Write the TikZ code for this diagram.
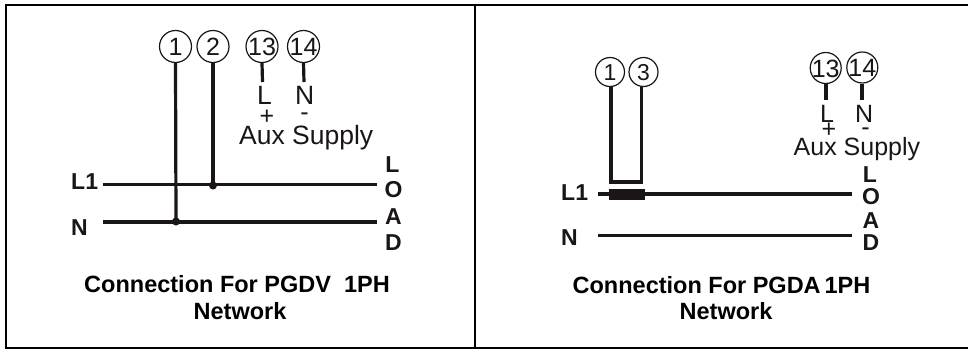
\documentclass[tikz,border=0pt]{standalone}
\usepackage{fontspec}
\setmainfont{Liberation Sans}
\definecolor{ink}{HTML}{1A1616}
\newcommand{\tnum}[1]{\makebox[0pt][c]{\smash{\raisebox{-.36em}{#1}}}}
\tikzset{
  frame/.style={draw=black,line width=2pt},
  wire/.style={draw=ink,line width=3.2pt},
  term/.style={circle,draw=ink,line width=1.2pt,fill=white,inner sep=0pt,text=ink,font=\fontsize{25}{25}\selectfont},
  termr/.style={term,font=\fontsize{23}{23}\selectfont},
  reg/.style={inner sep=0pt,anchor=base west,text=ink,font=\fontsize{26.5}{26.5}\selectfont},
  regr/.style={reg,font=\fontsize{25}{25}\selectfont},
  sign/.style={inner sep=0pt,anchor=center,text=ink,font=\fontsize{25}{25}\selectfont},
  boldt/.style={inner sep=0pt,anchor=base west,text=ink,font=\bfseries\fontsize{23}{23}\selectfont},
  loadt/.style={inner sep=0pt,anchor=base,text=ink,font=\bfseries\fontsize{23}{23}\selectfont},
  titlet/.style={inner sep=0pt,anchor=base,text=black,font=\bfseries\fontsize{23.5}{23.5}\selectfont},
  dotj/.style={circle,fill=ink,inner sep=0pt,minimum size=8pt},
}
\begin{document}
\begin{tikzpicture}[x=1pt,y=-1pt]
\useasboundingbox (0,0) rectangle (968,351);
\fill[white] (0,0) rectangle (968,351);
% frame
\draw[frame] (968,5) -- (5.5,5) -- (5.5,347.5) -- (968,347.5);
\draw[frame] (474.5,5) -- (474.5,347.5);
% left panel
\node[term,minimum size=32pt] (a1) at (175.5,46.5) {\tnum{1}};
\node[term,minimum size=32pt] (a2) at (213,46.5) {\tnum{2}};
\node[term,minimum size=32pt] (a13) at (262,46.5) {\tnum{13}};
\node[term,minimum size=32pt] (a14) at (303.5,46.5) {\tnum{14}};
\coordinate (aL1a) at (103,184.5);
\coordinate (aL1b) at (377,184.5);
\coordinate (aNa) at (103,222);
\coordinate (aNb) at (377,222);
\node[dotj] (aj2) at (213,185.5) {};
\node[dotj] (aj1) at (176,221.5) {};
\coordinate (a13e) at (262.5,82);
\coordinate (a14e) at (304,82);
\draw[wire] (aL1a) -- (aL1b);
\draw[wire] (aNa) -- (aNb);
\draw[wire] (a1.south) -- (aj1.center);
\draw[wire] (a2.south) -- (aj2.center);
\draw[wire] (a13.south) -- (a13e);
\draw[wire] (a14.south) -- (a14e);
\node[boldt] (al1) at (71,189) {L1};
\node[boldt] (an) at (71,235) {N};
\node[loadt] (aol) at (392.5,172) {L};
\node[loadt] (aoo) at (393.5,197) {O};
\node[loadt] (aoa) at (393.5,224) {A};
\node[loadt] (aod) at (393.5,250) {D};
\node[reg] (asl) at (257,104) {L};
\node[reg] (asn) at (295,104) {N};
\node[sign] (asp) at (267,117) {+};
\node[sign] (asm) at (304.5,117) {-};
\node[reg] (aux1) at (239,144) {Aux Supply};
\node[titlet] (at1) at (237,292) {Connection For PGDV\ \ 1PH};
\node[titlet] (at2) at (240,319) {Network};
% right panel
\node[termr,minimum size=29pt] (b1) at (610,72) {\tnum{1}};
\node[termr,minimum size=29pt] (b3) at (643.5,72) {\tnum{3}};
\node[term,minimum size=31pt] (b13) at (825.7,68) {\tnum{13}};
\node[term,minimum size=31pt] (b14) at (862.3,67.5) {\tnum{14}};
\coordinate (bL1a) at (598,194);
\coordinate (bL1b) at (852,194);
\coordinate (bNa) at (598,235.5);
\coordinate (bNb) at (852,235.5);
\coordinate (bj1) at (611,182);
\coordinate (bj3) at (641.7,182);
\coordinate (b13e) at (826,100);
\coordinate (b14e) at (862,100);
\draw[wire] (bL1a) -- (bL1b);
\draw[wire] (bNa) -- (bNb);
\draw[wire,line join=miter] (b1.south -| bj1) -- (bj1) -- (bj3) -- (b3.south -| bj3);
\fill[ink] (609,188.5) rectangle (644.5,200);
\draw[wire] (b13.south -| b13e) -- (b13e);
\draw[wire] (b14.south -| b14e) -- (b14e);
\node[boldt] (bl1) at (561,200) {L1};
\node[boldt] (bn) at (561,245) {N};
\node[loadt] (bol) at (870,182) {L};
\node[loadt] (boo) at (871,204) {O};
\node[loadt] (boa) at (871,228) {A};
\node[loadt] (bod) at (871,250) {D};
\node[regr] (bsl) at (820,122) {L};
\node[regr] (bsn) at (855,122) {N};
\node[sign] (bsp) at (829,130) {+};
\node[sign] (bsm) at (865.5,132) {-};
\node[regr] (aux2) at (793.5,155.5) {Aux Supply};
\node[titlet] (bt1) at (721.5,293) {Connection For PGDA\,1PH};
\node[titlet] (bt2) at (726,319) {Network};
\end{tikzpicture}
\end{document}
